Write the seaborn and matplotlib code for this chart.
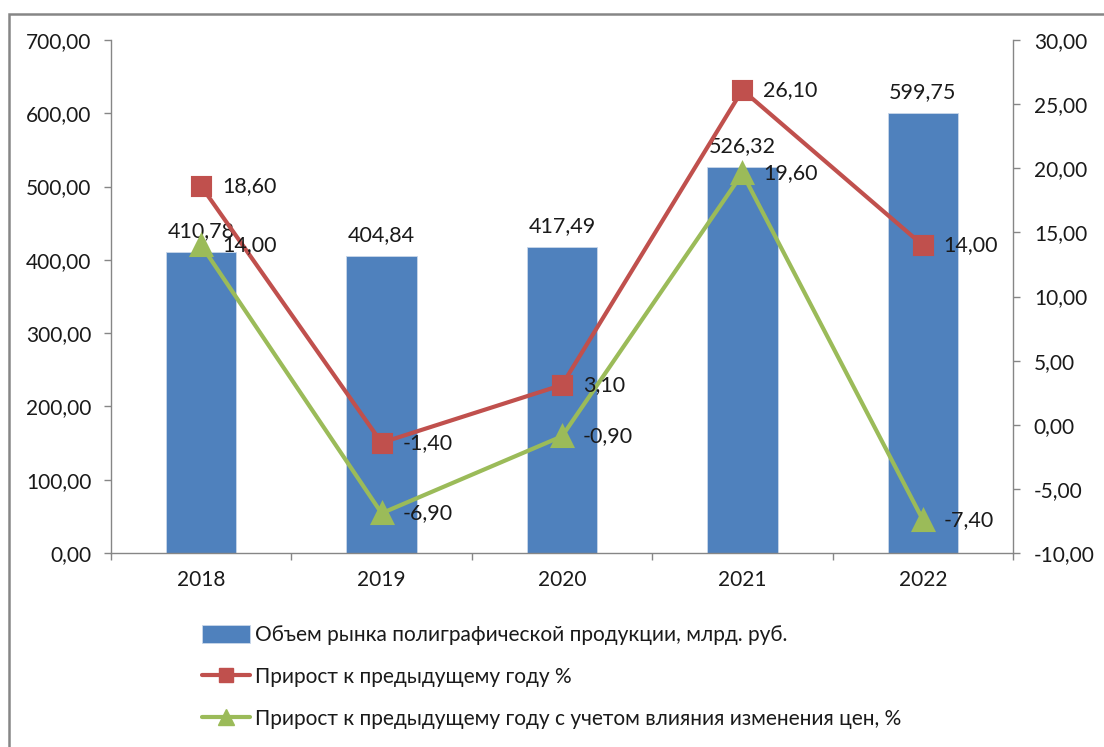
import matplotlib
matplotlib.use("Agg")
import matplotlib.pyplot as plt
from matplotlib.patches import Rectangle, Patch
from matplotlib.lines import Line2D
import seaborn as sns
import pandas as pd

# --- data ---
years = ["2018", "2019", "2020", "2021", "2022"]
market_volume = [410.78, 404.84, 417.49, 526.32, 599.75]
growth_pct = [18.60, -1.40, 3.10, 26.10, 14.00]
growth_real_pct = [14.00, -6.90, -0.90, 19.60, -7.40]

label_volume = "Объем рынка полиграфической продукции, млрд. руб."
label_growth = "Прирост к предыдущему году %"
label_growth_real = "Прирост к предыдущему году с учетом влияния изменения цен, %"

left_ticks = [0, 100, 200, 300, 400, 500, 600, 700]
right_ticks = [-10, -5, 0, 5, 10, 15, 20, 25, 30]

# --- style ---
sns.set_theme(style="white")
plt.rcParams["font.family"] = ["Lato", "DejaVu Sans"]
FS = 15
TEXT = "#1a1a1a"
AXIS = "#868686"
BLUE = "#4F81BD"
RED = "#C0504D"
GREEN = "#9BBB59"


def fmt(v):
    return f"{v:.2f}".replace(".", ",")


df = pd.DataFrame({"year": years, "volume": market_volume,
                   "growth": growth_pct, "growth_real": growth_real_pct})

fig = plt.figure(figsize=(11.04, 7.47), dpi=100)
ax = fig.add_axes([111 / 1104, 1 - 553 / 747, (1013 - 111) / 1104, (553 - 40) / 747])

sns.barplot(data=df, x="year", y="volume", ax=ax, color=BLUE, saturation=1,
            width=0.39, edgecolor="#c9d7ea", linewidth=0.6, errorbar=None)

ax2 = ax.twinx()
sns.pointplot(data=df, x="year", y="growth", ax=ax2, color=RED, markers="s",
              markersize=13, linewidth=3, errorbar=None)
sns.pointplot(data=df, x="year", y="growth_real", ax=ax2, color=GREEN, markers="^",
              markersize=14, linewidth=3, errorbar=None)

ax.set_ylim(0, 700)
ax2.set_ylim(-10, 30)
ax.set_xlim(-0.5, len(years) - 0.5)
ax.set_xlabel("")
ax.set_ylabel("")
ax2.set_xlabel("")
ax2.set_ylabel("")

ax.set_yticks(left_ticks)
ax.set_yticklabels([fmt(v) for v in left_ticks])
ax2.set_yticks(right_ticks)
ax2.set_yticklabels([fmt(v) for v in right_ticks])

# category ticks sit between the groups, labels at group centres
ax.set_xticks([i - 0.5 for i in range(len(years) + 1)])
ax.set_xticklabels([])
ax.set_xticks(range(len(years)), minor=True)
ax.set_xticklabels(years, minor=True)
ax.tick_params(axis="x", which="major", direction="out", length=5, width=1,
               color=AXIS, bottom=True)
ax.tick_params(axis="x", which="minor", length=0, pad=12, labelsize=FS,
               labelcolor=TEXT)
ax.tick_params(axis="y", direction="out", length=5, width=1, color=AXIS,
               left=True, pad=9, labelsize=FS, labelcolor=TEXT)
ax2.tick_params(axis="y", direction="out", length=5, width=1, color=AXIS,
                right=True, pad=10, labelsize=FS, labelcolor=TEXT)

for a in (ax, ax2):
    a.spines["top"].set_visible(False)
    for side in ("left", "right", "bottom"):
        a.spines[side].set_color(AXIS)
        a.spines[side].set_linewidth(1)
    a.grid(False)
ax.spines["right"].set_visible(False)
ax2.spines["left"].set_visible(False)
ax2.spines["bottom"].set_visible(False)

# value labels
for i, v in enumerate(market_volume):
    ax.annotate(fmt(v), (i, v), xytext=(0, 8), textcoords="offset points",
                ha="center", va="bottom", fontsize=FS + 0.5, color=TEXT)
for series in (growth_pct, growth_real_pct):
    for i, v in enumerate(series):
        ax2.annotate(fmt(v), (i, v), xytext=(15, 0), textcoords="offset points",
                     ha="left", va="center", fontsize=FS + 0.5, color=TEXT)

# legend under the plot
handles = [
    Patch(facecolor=BLUE, edgecolor="#c9d7ea", linewidth=0.6),
    Line2D([], [], color=RED, linewidth=3, marker="s", markersize=10),
    Line2D([], [], color=GREEN, linewidth=3, marker="^", markersize=11),
]
fig.legend(handles, [label_volume, label_growth, label_growth_real],
           loc="center left", bbox_to_anchor=(202 / 1104, 1 - 677 / 747),
           frameon=False, fontsize=FS, labelcolor=TEXT, handlelength=2.3,
           handleheight=0.9, handletextpad=0.25, labelspacing=1.05,
           borderpad=0, borderaxespad=0)

# chart-area frame
fig.patches.append(Rectangle((9 / 1104, -0.1), 1.2, 1.1 - 14 / 747,
                             transform=fig.transFigure, fill=False,
                             edgecolor=AXIS, linewidth=1.8, zorder=0))

fig.savefig("out.png", dpi=100, facecolor="white")
